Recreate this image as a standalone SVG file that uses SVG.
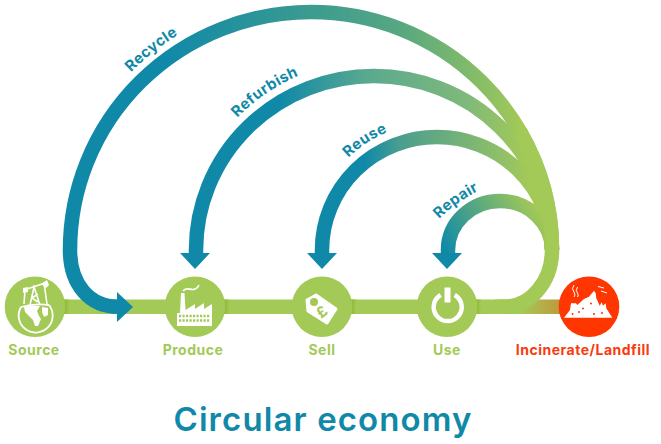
<svg xmlns="http://www.w3.org/2000/svg" xmlns:xlink="http://www.w3.org/1999/xlink" width="661" height="444" viewBox="0 0 661 444">
<style>
.lbl{font-family:Inter,"Liberation Sans",sans-serif;font-weight:700;font-size:14px;text-anchor:middle;letter-spacing:.5px}
.g{fill:#a3c957}
.arc{font-family:Inter,"Liberation Sans",sans-serif;font-weight:700;font-size:15px;letter-spacing:.4px;fill:#1089a8}
.band{fill:none;stroke-width:14.5}
.w{fill:#fff}
.ws{fill:none;stroke:#fff}
</style>
<defs>
<linearGradient id="gRecycle" gradientUnits="userSpaceOnUse" x1="165" y1="0" x2="520" y2="0"><stop offset="0" stop-color="#1089a8"/><stop offset=".4" stop-color="#3a9b90"/><stop offset=".662" stop-color="#57a781"/><stop offset=".944" stop-color="#94c360"/><stop offset="1" stop-color="#a3c957"/></linearGradient>
<linearGradient id="gRefurbish" gradientUnits="userSpaceOnUse" x1="280" y1="0" x2="525" y2="0"><stop offset="0" stop-color="#1089a8"/><stop offset=".355" stop-color="#5aa98f"/><stop offset=".763" stop-color="#7fb97a"/><stop offset="1" stop-color="#a3c957"/></linearGradient>
<linearGradient id="gReuse" gradientUnits="userSpaceOnUse" x1="365" y1="0" x2="530" y2="0"><stop offset="0" stop-color="#1089a8"/><stop offset=".212" stop-color="#4a9e8e"/><stop offset=".818" stop-color="#8fbf69"/><stop offset="1" stop-color="#a3c957"/></linearGradient>
<linearGradient id="gRepair" gradientUnits="userSpaceOnUse" x1="448" y1="255" x2="535" y2="205"><stop offset="0" stop-color="#1089a8"/><stop offset="1" stop-color="#a3c957"/></linearGradient>
<linearGradient id="gWaste" gradientUnits="userSpaceOnUse" x1="520" y1="0" x2="566" y2="0"><stop offset="0" stop-color="#a3c957"/><stop offset="1" stop-color="#c4923a"/></linearGradient>
<linearGradient id="gShade" x1="0" y1="0" x2="1" y2="0"><stop offset="0" stop-color="#84b520"/><stop offset="1" stop-color="#a3c957"/></linearGradient>
<path id="tRecycle" d="M 58 250 A 253 253 0 0 1 564 250"/>
<path id="tRefurbish" d="M 184 250 A 190 190 0 0 1 564 250"/>
<path id="tReuse" d="M 309 250 A 128 128 0 0 1 565 250"/>
<path id="tRepair" d="M 439 219 Q 457 201 484 188"/>
</defs>
<g id="connectors">
<rect x="500" y="299.5" width="66" height="14.5" fill="url(#gWaste)"/>
<rect x="60" y="299.5" width="450" height="14.5" class="g"/>
<path class="band" stroke="url(#gRecycle)" d="M 552 250 A 241 238 0 0 0 70 250 C 70 285 90 306.7 118 306.7"/>
<path class="band" stroke="url(#gRefurbish)" d="M 552 250 A 178 174 0 0 0 196 250 L 196 256"/>
<path class="band" stroke="url(#gReuse)" d="M 552 250 A 115 113 0 0 0 322 250 L 322 256"/>
<path class="band" stroke="url(#gRepair)" d="M 552 250 A 52 49 0 0 0 448 250 L 448 256"/>
<path class="band" stroke="#a3c957" d="M 495 306.7 L 505 306.7 C 531 306.7 552 281 552 250 A 241 238 0 0 0 520 131.500"/>
<path d="M117 292 L133 307 L117 322 Z" fill="#1089a8"/>
<path d="M180 253 L210 253 L195 269 Z" fill="#1089a8"/>
<path d="M307 253 L337 253 L322 269 Z" fill="#1089a8"/>
<path d="M432 253 L462 253 L447 269 Z" fill="#1089a8"/>
<rect x="63" y="299.5" width="6" height="14.5" fill="url(#gShade)"/>
<rect x="223" y="299.5" width="6" height="14.5" fill="url(#gShade)"/>
<rect x="350" y="299.5" width="6" height="14.5" fill="url(#gShade)"/>
<rect x="475" y="299.5" width="6" height="14.5" fill="url(#gShade)"/>
</g>
<g id="edge-labels">
<text class="arc"><textPath xlink:href="#tRecycle" href="#tRecycle" startOffset="197">Recycle</textPath></text>
<text class="arc"><textPath xlink:href="#tRefurbish" href="#tRefurbish" startOffset="146">Refurbish</textPath></text>
<text class="arc"><textPath xlink:href="#tReuse" href="#tReuse" startOffset="103">Reuse</textPath></text>
<text class="arc"><textPath xlink:href="#tRepair" href="#tRepair">Repair</textPath></text>
</g>
<g id="source">
<circle cx="35" cy="306.7" r="30.3" fill="#a3c957"/>
<path class="ws" stroke-width="1.8" d="M21 307 A 17 17 0 1 0 49 305 M21 307 Q34 303 49 305"/>
<path class="w" d="M24 307 Q30 305 40 306 L37 311 L39 316 L41 319 L38 326 L35 326 L33 320 L29 316 L25 312 Z M42 307 L48 308 L48 315 L44 317 L42 312 Z"/>
<path class="ws" stroke-width="1.6" d="M24 290 L45 283 M25 290 L24 304 M30 305 L34 287 L40 305 M32 298 L38 294 M32 298 L38 302 M44 283 L47 304"/>
<path class="w" d="M41 284 L47 280 L49 285 L46 288 Z M23 288 L28 287 L28 292 L23 293 Z"/>
<text class="lbl" x="34" y="355" fill="#a3c957">Source</text>
</g>
<g id="produce">
<circle cx="195" cy="306.7" r="30.3" fill="#a3c957"/>
<path class="w" d="M177 326 L177 313 L180 313 L181 293 L184.500 293 L185.500 310 L195 304 L195 309 L204 303 L204 309 L212 304 L212 326 Z"/>
<path class="ws" stroke-width="1.6" d="M183 291 C187 286 191 291 195 289 Q198 288 199 285"/>
<path fill="none" stroke="#a3c957" stroke-width="2.4" stroke-dasharray="2.200 1.300" d="M179 316 H210 M179 320.500 H210"/>
<text class="lbl" x="193" y="355" fill="#a3c957">Produce</text>
</g>
<g id="sell">
<circle cx="322" cy="306.7" r="30.3" fill="#a3c957"/>
<path class="w" stroke="#fff" stroke-width="3" stroke-linejoin="round" d="M307 300 L316 295 L336 309 L327 323 L308 311 Z"/>
<circle cx="314" cy="302" r="4" fill="#a3c957"/>
<text x="322" y="317" transform="rotate(-38 322 312)" font-family="Inter,'Liberation Sans',sans-serif" font-weight="700" font-size="15" text-anchor="middle" fill="#a3c957">£</text>
<text class="lbl" x="322" y="355" fill="#a3c957">Sell</text>
</g>
<g id="use">
<circle cx="447" cy="306.7" r="30.3" fill="#a3c957"/>
<path class="ws" stroke-width="4.500" d="M440.700 295 A 14 14 0 1 0 454.700 295"/>
<rect x="444.500" y="287.500" width="6" height="15" class="w"/>
<text class="lbl" x="447" y="355" fill="#a3c957">Use</text>
</g>
<g id="incinerate">
<circle cx="589" cy="306.7" r="30.3" fill="#ff3600"/>
<path class="w" d="M564 317.700 L570 310 L571 303.300 L576 303.300 L577.300 305 L584 299 L589 296.700 L594 290.700 L595.700 293.300 L596.300 298.300 L599.700 305.700 L601.700 302.300 L603 305.700 L605.700 303.300 L606.300 308.300 L612.300 317.700 Z"/>
<g fill="#ff3600"><circle cx="572.500" cy="314" r="1"/><circle cx="579" cy="312" r="1"/><circle cx="583" cy="308.500" r="1"/><circle cx="594" cy="314" r="1"/><circle cx="591" cy="303.500" r="1"/><circle cx="602" cy="313" r="1"/></g>
<path class="ws" stroke-width="1" d="M574 285 Q571 289 574 292 Q576 295 574 297 M577.500 287 Q575 291 577.500 293 Q579 295 577.500 297 M598 286.500 L604 288 M601 291 L607 293"/>
<text class="lbl" x="583" y="355" fill="#f93a0e">Incinerate/Landfill</text>
</g>
<text x="323" y="431" text-anchor="middle" letter-spacing="1.100" font-family="Inter,'Liberation Sans',sans-serif" font-weight="600" font-size="33" fill="#1089a8">Circular economy</text>
</svg>
